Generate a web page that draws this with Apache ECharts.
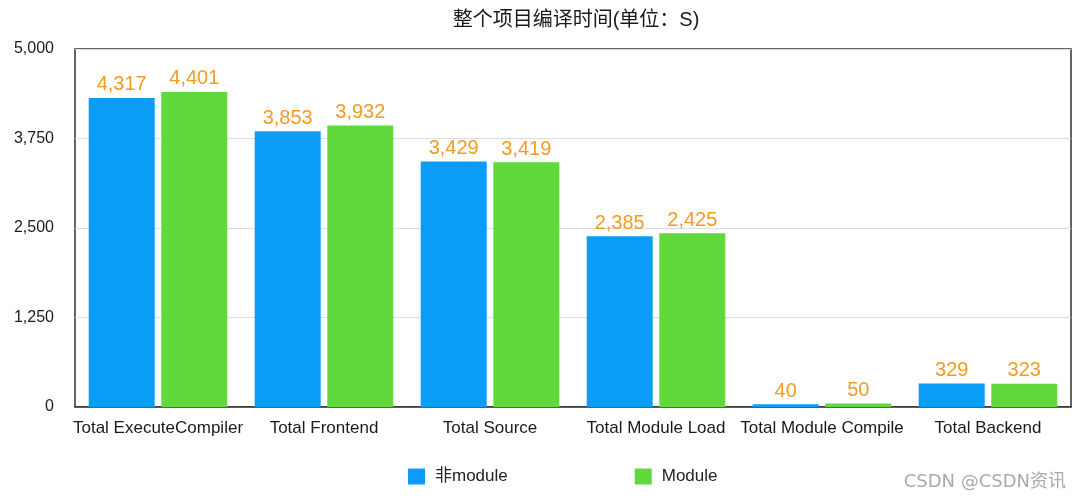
<!DOCTYPE html>
<html>
<head>
<meta charset="utf-8">
<script src="https://cdn.jsdelivr.net/npm/echarts@6/dist/echarts.min.js"></script>
<style>
html,body{margin:0;padding:0;background:#fff;}
#chart{width:1080px;height:499px;}
</style>
</head>
<body>
<div id="chart"></div>
<script>
const categories = ['Total ExecuteCompiler', 'Total Frontend', 'Total Source', 'Total Module Load', 'Total Module Compile', 'Total Backend'];
const nonModule = [4317, 3853, 3429, 2385, 40, 329];
const moduleVals = [4401, 3932, 3419, 2425, 50, 323];
const seriesNames = ['非module', 'Module'];
const titleText = '整个项目编译时间(单位：S)';
const watermark = 'CSDN @CSDN资讯';

const fontFamily = '"Liberation Sans", "Noto Sans CJK SC", sans-serif';
const fmt = v => Number(v).toLocaleString('en-US');

const chart = echarts.init(document.getElementById('chart'), null, {renderer: 'canvas'});
const labelOpt = {
  show: true,
  position: 'top',
  distance: 3,
  color: '#f59a23',
  fontSize: 20,
  fontFamily: fontFamily,
  formatter: p => fmt(p.value)
};
chart.setOption({
  animation: false,
  backgroundColor: '#fff',
  title: {
    text: titleText,
    left: 571,
    textAlign: 'center',
    top: 5,
    textStyle: {fontSize: 20, fontWeight: 'normal', color: '#1a1a1a', fontFamily: fontFamily}
  },
  legend: {
    data: seriesNames,
    left: 403,
    top: 463,
    itemWidth: 17,
    itemHeight: 16,
    itemGap: 127,
    icon: 'rect',
    textStyle: {fontSize: 17, color: '#222', fontFamily: fontFamily, padding: [0, 0, 0, 5]}
  },
  graphic: [{
    type: 'text',
    right: 14,
    top: 473,
    style: {text: watermark, fill: '#aaa', fontSize: 18, fontFamily: '"DejaVu Sans", "Noto Sans CJK SC", sans-serif'}
  }],
  grid: {
    left: 75, right: 9, top: 49, bottom: 92,
    show: true,
    borderColor: '#333',
    borderWidth: 1.5,
    backgroundColor: '#fff'
  },
  xAxis: {
    type: 'category',
    data: categories,
    axisLine: {show: true, lineStyle: {color: '#333', width: 1.5}},
    axisTick: {show: false},
    axisLabel: {fontSize: 17, color: '#1a1a1a', margin: 13, fontFamily: fontFamily, interval: 0}
  },
  yAxis: {
    type: 'value',
    min: 0,
    max: 5000,
    interval: 1250,
    axisLine: {show: false},
    axisTick: {show: false},
    axisLabel: {fontSize: 16, color: '#1a1a1a', margin: 21, padding: [4, 0, 0, 0], fontFamily: fontFamily, formatter: v => fmt(v)},
    splitLine: {lineStyle: {color: '#ddd', width: 1}}
  },
  series: [
    {name: seriesNames[0], type: 'bar', data: nonModule, barWidth: 66, barGap: '10%', itemStyle: {color: '#0a9cf6'}, label: labelOpt},
    {name: seriesNames[1], type: 'bar', data: moduleVals, barWidth: 66, barGap: '10%', itemStyle: {color: '#5fd93b'}, label: labelOpt}
  ]
});
</script>
</body>
</html>
